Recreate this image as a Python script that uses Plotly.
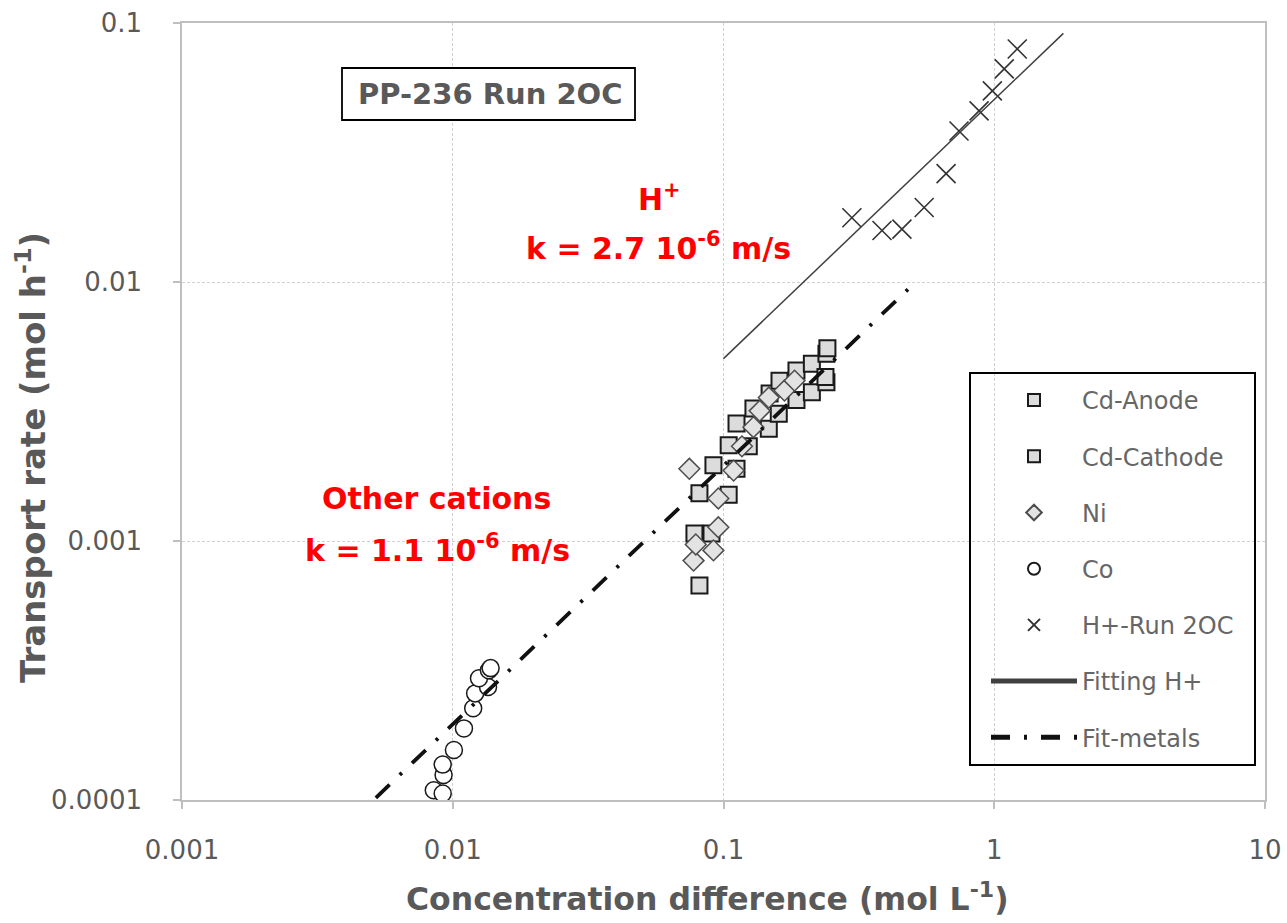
import plotly.graph_objects as go

# ---------------- data ----------------
cd_anode_x = [0.0815, 0.0918, 0.1045, 0.1117, 0.129, 0.148, 0.161, 0.186, 0.212, 0.240, 0.242]
cd_anode_y = [0.00153, 0.00196, 0.00234, 0.00284, 0.00325, 0.00371, 0.00416, 0.00455, 0.00484, 0.00528, 0.00555]

cd_cathode_x = [0.0815, 0.0781, 0.0903, 0.1045, 0.1117, 0.124, 0.147, 0.160, 0.186, 0.212, 0.240, 0.238]
cd_cathode_y = [0.000674, 0.00107, 0.00107, 0.00151, 0.0019, 0.00232, 0.00271, 0.0031, 0.0035, 0.00375, 0.0041, 0.0043]

ni_x = [0.0748, 0.0775, 0.0790, 0.0918, 0.0957, 0.0957, 0.109, 0.117, 0.129, 0.136, 0.147, 0.168, 0.183]
ni_y = [0.0019, 0.00084, 0.00097, 0.00092, 0.00113, 0.00146, 0.00187, 0.00232, 0.00275, 0.00318, 0.00358, 0.00381, 0.00416]

co_x = [0.00851, 0.00918, 0.00925, 0.00918, 0.0101, 0.0110, 0.0119, 0.0121, 0.0135, 0.0125, 0.0136, 0.0138]
co_y = [0.000109, 0.000106, 0.000125, 0.000137, 0.000156, 0.000189, 0.000226, 0.000258, 0.000273, 0.000295, 0.000317, 0.000323]

h_x = [0.298, 0.385, 0.456, 0.551, 0.664, 0.741, 0.879, 0.984, 1.089, 1.216]
h_y = [0.0177, 0.0158, 0.0160, 0.0194, 0.0262, 0.0383, 0.0458, 0.0547, 0.0665, 0.0794]

fit_h_x = [0.1, 1.8]
fit_h_y = [0.00506, 0.0912]

fit_metals_x = [0.0052, 0.48]
fit_metals_y = [0.000102, 0.00936]

x_tickvals = [0.001, 0.01, 0.1, 1, 10]
x_ticktext = ["0.001", "0.01", "0.1", "1", "10"]
y_tickvals = [0.0001, 0.001, 0.01, 0.1]
y_ticktext = ["0.0001", "0.001", "0.01", "0.1"]

# ---------------- layout geometry ----------------
W, H = 1287, 923
L, R, T, B = 182, 22, 23, 123
PW, PH = W - L - R, H - T - B


def px(xp):
    return (xp - L) / PW


def py(yp):
    return (H - B - yp) / PH


GRAY = "#595959"
fig = go.Figure()

fig.add_trace(go.Scatter(
    x=cd_anode_x, y=cd_anode_y, mode="markers", name="Cd-Anode", legendgroup="a",
    marker=dict(symbol="square", size=16, color="#DCDCDC", line=dict(color="#1a1a1a", width=2))))
fig.add_trace(go.Scatter(
    x=cd_cathode_x, y=cd_cathode_y, mode="markers", name="Cd-Cathode", legendgroup="b",
    marker=dict(symbol="square", size=16, color="#DCDCDC", line=dict(color="#1a1a1a", width=2))))
fig.add_trace(go.Scatter(
    x=ni_x, y=ni_y, mode="markers", name="Ni", legendgroup="c",
    marker=dict(symbol="diamond", size=16, color="#E3E3E3", line=dict(color="#4d4d4d", width=1.5))))
fig.add_trace(go.Scatter(
    x=co_x, y=co_y, mode="markers", name="Co", legendgroup="d",
    marker=dict(symbol="circle", size=17, color="white", line=dict(color="#1a1a1a", width=1.5))))
fig.add_trace(go.Scatter(
    x=h_x, y=h_y, mode="markers", name="H+-Run 2OC", legendgroup="e",
    marker=dict(symbol="x-thin-open", size=19, color="#333333", line=dict(color="#333333", width=1.6))))
fig.add_trace(go.Scatter(
    x=fit_h_x, y=fit_h_y, mode="lines", name="Fitting H+", legendgroup="f",
    line=dict(color="#404040", width=1.5)))
fig.add_trace(go.Scatter(
    x=fit_metals_x, y=fit_metals_y, mode="lines", name="Fit-metals", legendgroup="g",
    line=dict(color="#111111", width=3.8, dash="19px,14px,3px,14px")))

axis_common = dict(
    type="log", showgrid=True, gridcolor="#D0D0D0", gridwidth=1, griddash="3px,2px",
    showline=True, linecolor="#BFBFBF", linewidth=1.5, mirror=True,
    ticks="outside", tickcolor="#BFBFBF", ticklen=7, tickwidth=1.5,
    tickfont=dict(family="DejaVu Sans", size=26, color=GRAY),
    zeroline=False, minor=dict(showgrid=False, ticks=""),
)

fig.update_layout(
    width=W, height=H,
    margin=dict(l=L, r=R, t=T, b=B, autoexpand=False),
    paper_bgcolor="white", plot_bgcolor="white",
    xaxis=dict(axis_common, range=[-3, 1], tickvals=x_tickvals, ticktext=x_ticktext,
               ticklabelstandoff=19),
    yaxis=dict(axis_common, range=[-4, -1], tickvals=y_tickvals, ticktext=y_ticktext,
               ticklabelstandoff=26),
    showlegend=True,
    legend=dict(
        x=px(986), y=py(378), xanchor="left", yanchor="top",
        bgcolor="rgba(255,255,255,0)", borderwidth=0,
        font=dict(family="DejaVu Sans", size=24, color="#666666"),
        tracegroupgap=22, itemsizing="constant", itemwidth=86,
        traceorder="grouped",
    ),
)

shapes = [
    # legend frame
    dict(type="rect", xref="paper", yref="paper", x0=px(970), x1=px(1255), y0=py(765), y1=py(373),
         line=dict(color="black", width=2), fillcolor="rgba(0,0,0,0)", layer="above"),
    # title box frame
    dict(type="rect", xref="paper", yref="paper", x0=px(342), x1=px(635), y0=py(120), y1=py(68),
         line=dict(color="black", width=1.8), fillcolor="white", layer="above"),
]
fig.update_layout(shapes=shapes)

red = "#FF0000"
ann = [
    dict(text="PP-236 Run 2OC", x=px(490), y=py(94), font=dict(family="DejaVu Sans", size=29, color=GRAY, weight="bold")),
    dict(text="H<sup>+</sup>", x=px(659), y=py(197), font=dict(family="DejaVu Sans", size=30, color=red, weight="bold")),
    dict(text="k = 2.7 10<sup>-6</sup> m/s", x=px(658), y=py(246), font=dict(family="DejaVu Sans", size=30, color=red, weight="bold")),
    dict(text="Other cations", x=px(436), y=py(499), font=dict(family="DejaVu Sans", size=30, color=red, weight="bold")),
    dict(text="k = 1.1 10<sup>-6</sup> m/s", x=px(437), y=py(548), font=dict(family="DejaVu Sans", size=30, color=red, weight="bold")),
    dict(text="Concentration difference (mol L<sup>-1</sup>)", x=px(707), y=py(897),
         font=dict(family="DejaVu Sans", size=31.5, color=GRAY, weight="bold")),
    dict(text="Transport rate (mol h<sup>-1</sup>)", x=px(31), y=py(458), textangle=-90,
         font=dict(family="DejaVu Sans", size=34, color=GRAY, weight="bold")),
]
for a in ann:
    a.update(xref="paper", yref="paper", showarrow=False, xanchor="center", yanchor="middle")
fig.update_layout(annotations=ann)

fig.write_html("out.html")
